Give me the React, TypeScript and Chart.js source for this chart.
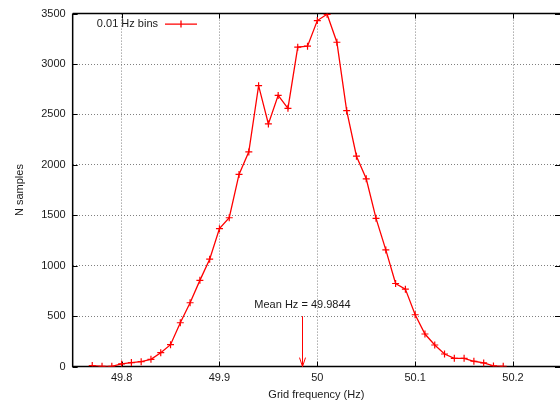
import React, { useEffect, useRef } from "react";
import { Chart, registerables } from "chart.js";

Chart.register(...registerables);

const frequencies: number[] = [
  49.77, 49.78, 49.79, 49.8, 49.81, 49.82, 49.83, 49.84, 49.85, 49.86, 49.87,
  49.88, 49.89, 49.9, 49.91, 49.92, 49.93, 49.94, 49.95, 49.96, 49.97, 49.98,
  49.99, 50.0, 50.01, 50.02, 50.03, 50.04, 50.05, 50.06, 50.07, 50.08, 50.09,
  50.1, 50.11, 50.12, 50.13, 50.14, 50.15, 50.16, 50.17, 50.18, 50.19,
];
const counts: number[] = [
  10, 3, 3, 27, 40, 49, 72, 138, 217, 435, 633,
  855, 1065, 1368, 1476, 1905, 2129, 2785, 2406, 2689, 2561, 3167,
  3177, 3431, 3493, 3216, 2538, 2086, 1862, 1470, 1157, 824, 768,
  514, 323, 214, 125, 82, 82, 53, 36, 7, 3,
];
const xTickValues: number[] = [49.8, 49.9, 50.0, 50.1, 50.2];
const xTickLabels: string[] = ["49.8", "49.9", "50", "50.1", "50.2"];
const yTickValues: number[] = [0, 500, 1000, 1500, 2000, 2500, 3000, 3500];
const meanHz = 49.9844;
const meanLabel = "Mean Hz = 49.9844";
const arrowTopValue = 500;
const meanLabelValue = 610;
const seriesLabel = "0.01 Hz bins";

const FONT = "'Liberation Sans', Arial, sans-serif";
const TEXT = "#1a1a1a";
const RED = "#ff0000";

export default function App() {
  const ref = useRef<HTMLCanvasElement | null>(null);

  useEffect(() => {
    if (!ref.current) return;
    const framePlugin = {
      id: "frame",
      beforeDatasetsDraw(chart: any) {
        const { ctx, chartArea: a, scales } = chart;
        const xs = scales.x;
        const ys = scales.y;
        ctx.save();
        ctx.strokeStyle = "#000";
        ctx.lineWidth = 1;
        const tl = 5;
        ctx.beginPath();
        for (const v of yTickValues) {
          const y = Math.round(ys.getPixelForValue(v)) + 0.5;
          ctx.moveTo(a.left, y);
          ctx.lineTo(a.left + tl, y);
          ctx.moveTo(a.right, y);
          ctx.lineTo(a.right - tl, y);
        }
        for (const v of xTickValues) {
          const x = Math.round(xs.getPixelForValue(v)) + 0.5;
          ctx.moveTo(x, a.bottom);
          ctx.lineTo(x, a.bottom - tl);
          ctx.moveTo(x, a.top);
          ctx.lineTo(x, a.top + tl);
        }
        ctx.stroke();
        ctx.lineWidth = 1.5;
        ctx.beginPath();
        ctx.moveTo(a.left, a.top);
        ctx.lineTo(a.right, a.top);
        ctx.moveTo(a.left, a.top);
        ctx.lineTo(a.left, a.bottom);
        ctx.lineTo(a.right, a.bottom);
        ctx.stroke();
        ctx.restore();
      },
      afterDraw(chart: any) {
        const { ctx, chartArea: a, scales } = chart;
        const xs = scales.x;
        const ys = scales.y;
        ctx.save();
        const mx = Math.round(xs.getPixelForValue(meanHz)) + 0.5;
        const yTop = ys.getPixelForValue(arrowTopValue);
        const yBot = ys.getPixelForValue(0);
        ctx.strokeStyle = RED;
        ctx.lineWidth = 1;
        ctx.beginPath();
        ctx.moveTo(mx, yTop);
        ctx.lineTo(mx, yBot);
        ctx.moveTo(mx - 3, yBot - 9);
        ctx.lineTo(mx, yBot);
        ctx.lineTo(mx + 3, yBot - 9);
        ctx.stroke();
        ctx.fillStyle = TEXT;
        ctx.font = `11px ${FONT}`;
        ctx.textAlign = "center";
        ctx.textBaseline = "middle";
        ctx.fillText(meanLabel, mx, ys.getPixelForValue(meanLabelValue));
        const ly = a.top + 10.5;
        ctx.textAlign = "right";
        ctx.fillText(seriesLabel, 158, ly);
        ctx.strokeStyle = RED;
        ctx.lineWidth = 1.3;
        ctx.beginPath();
        ctx.moveTo(165, ly);
        ctx.lineTo(197, ly);
        ctx.moveTo(181, ly - 3.5);
        ctx.lineTo(181, ly + 3.5);
        ctx.stroke();
        ctx.restore();
      },
    };

    const chart = new Chart(ref.current, {
      type: "line",
      data: {
        datasets: [
          {
            label: seriesLabel,
            data: frequencies.map((f, i) => ({ x: f, y: counts[i] })),
            borderColor: RED,
            backgroundColor: RED,
            borderWidth: 1.3,
            pointStyle: "cross",
            pointRadius: 3.5,
            pointBorderWidth: 1.2,
            pointBorderColor: RED,
            tension: 0,
            fill: false,
          },
        ],
      },
      options: {
        responsive: false,
        animation: false,
        layout: { autoPadding: false, padding: { top: 12, right: 0, left: 11, bottom: 0 } },
        plugins: {
          legend: { display: false },
          tooltip: { enabled: false },
        },
        scales: {
          x: {
            type: "linear",
            min: 49.75,
            max: 50.248,
            afterBuildTicks: (s: any) => {
              s.ticks = xTickValues.map((v) => ({ value: v }));
            },
            ticks: {
              callback: (v: any) => {
                const i = xTickValues.findIndex((t) => Math.abs(t - v) < 1e-6);
                return i >= 0 ? xTickLabels[i] : "";
              },
              font: { family: FONT, size: 11 },
              color: TEXT,
              padding: 5,
              maxRotation: 0,
              autoSkip: false,
            },
            grid: { color: "#808080", lineWidth: 1, drawTicks: false },
            border: { display: false, dash: [1, 2] },
            title: {
              display: true,
              text: "Grid frequency (Hz)",
              font: { family: FONT, size: 11 },
              color: TEXT,
              padding: { top: -1, bottom: -1 },
            },
          },
          y: {
            type: "linear",
            min: 0,
            max: 3500,
            afterBuildTicks: (s: any) => {
              s.ticks = yTickValues.map((v) => ({ value: v }));
            },
            ticks: {
              callback: (v: any) => String(v),
              font: { family: FONT, size: 11 },
              color: TEXT,
              padding: 7,
              autoSkip: false,
            },
            grid: { color: "#808080", lineWidth: 1, drawTicks: false },
            border: { display: false, dash: [1, 2] },
            title: {
              display: true,
              text: "N samples",
              font: { family: FONT, size: 11 },
              color: TEXT,
              padding: { top: 2, bottom: 8 },
            },
          },
        },
      },
      plugins: [framePlugin],
    });
    return () => chart.destroy();
  }, []);

  return (
    <div style={{ position: "absolute", left: 0, top: 0, width: 560, height: 401, background: "#fff" }}>
      <canvas ref={ref} width={560} height={401} style={{ display: "block" }} />
    </div>
  );
}
